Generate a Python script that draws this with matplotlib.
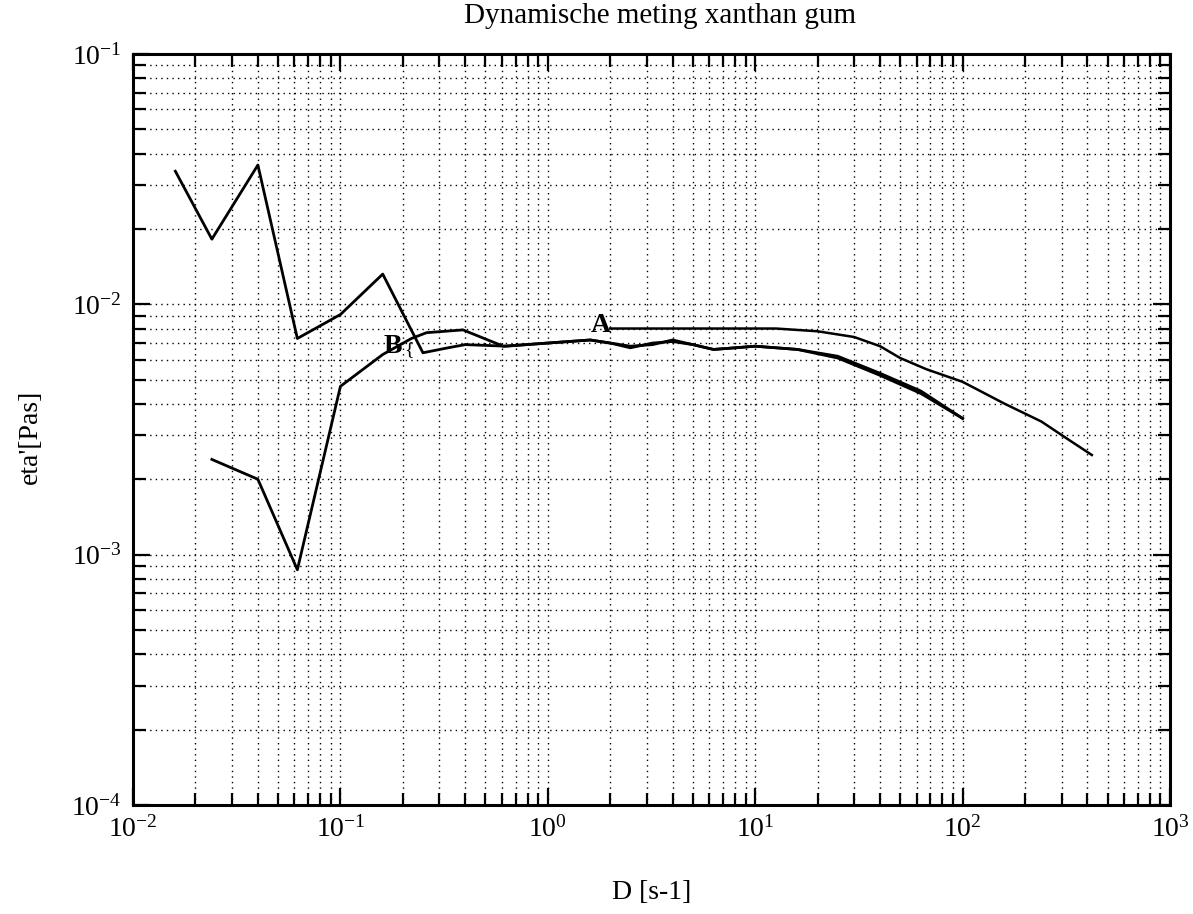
import matplotlib
matplotlib.use('Agg')
import matplotlib.pyplot as plt
import numpy as np

plt.rcParams['font.family'] = ['Liberation Serif', 'DejaVu Serif']
plt.rcParams['mathtext.fontset'] = 'custom'
plt.rcParams['mathtext.rm'] = 'Liberation Serif'
plt.rcParams['mathtext.it'] = 'Liberation Serif:italic'
plt.rcParams['mathtext.bf'] = 'Liberation Serif:bold'

# curve B, branch starting high at low shear rate
b1_x = [0.016, 0.024, 0.040, 0.062, 0.10, 0.16, 0.25, 0.33, 0.40, 0.63, 1.0, 1.6,
        2.0, 2.5, 3.2, 4.0, 5.0, 6.3, 8.0, 10, 16, 25, 40, 63, 100]
b1_y = [0.034, 0.0182, 0.036, 0.0073, 0.0091, 0.0132, 0.0064, 0.0067, 0.0069, 0.0068,
        0.0070, 0.0072, 0.0070, 0.0068, 0.0069, 0.0072, 0.0069, 0.0066, 0.0067, 0.0068,
        0.0066, 0.0061, 0.0052, 0.0044, 0.0035]

# curve B, branch starting low at low shear rate
b2_x = [0.024, 0.040, 0.062, 0.10, 0.16, 0.22, 0.26, 0.39, 0.61, 1.0, 1.6, 2.0, 2.5,
        3.2, 4.0, 5.0, 6.3, 8.0, 10, 16, 25, 40, 63, 100]
b2_y = [0.0024, 0.0020, 0.00087, 0.0047, 0.0063, 0.0073, 0.0077, 0.0079, 0.0068, 0.0070,
        0.0072, 0.0070, 0.0067, 0.0070, 0.0071, 0.0069, 0.0066, 0.0067, 0.0068, 0.0066,
        0.0062, 0.0053, 0.0045, 0.0035]

# curve A
a_x = [2.0, 3.2, 5.0, 8.0, 12.6, 20, 30, 40, 50, 67, 100, 160, 240, 320, 420]
a_y = [0.0080, 0.0080, 0.0080, 0.0080, 0.0080, 0.0078, 0.0074, 0.0068, 0.0061,
       0.0055, 0.0049, 0.0040, 0.0034, 0.0029, 0.0025]

fig = plt.figure(figsize=(11.93, 9.14), dpi=100)
ax = fig.add_axes([0.1115, 0.1193, 0.8692, 0.8217])

ax.plot(b1_x, b1_y, color='black', lw=2.0)
ax.plot(b2_x, b2_y, color='black', lw=2.0)
ax.plot(a_x, a_y, color='black', lw=1.8)

ax.set_xscale('log')
ax.set_yscale('log')
ax.set_xlim(1e-2, 1e3)
ax.set_ylim(1e-4, 1e-1)

ax.grid(True, which='both', color='black', linestyle=(0, (1, 3)), linewidth=1.0)
ax.tick_params(which='both', direction='in', top=True, right=True,
               labelsize=20, pad=8, width=1.6, color='black')
ax.tick_params(which='major', length=12)
ax.tick_params(which='minor', length=9)
for sp in ax.spines.values():
    sp.set_linewidth(2.2)

ax.text(1.80, 0.00826, 'A', fontsize=20, fontweight='bold', ha='center', va='center')
ax.text(0.179, 0.0068, 'B', fontsize=20, fontweight='bold', ha='center', va='center')
ax.text(0.215, 0.0066, '{', fontsize=14, ha='center', va='center')

ax.set_xlabel('D [s-1]', fontsize=20)
ax.xaxis.set_label_coords(0.5, -0.116)
ax.xaxis.label.set_va('center')
ax.set_ylabel("eta'[Pas]", fontsize=20)
ax.yaxis.set_label_coords(-0.099, 0.49)
ax.yaxis.label.set_va('center')

fig.text(0.553, 1 - 23 / 914, 'Dynamische meting xanthan gum', fontsize=21,
         ha='center', va='baseline')

fig.savefig('out.png', dpi=100)
